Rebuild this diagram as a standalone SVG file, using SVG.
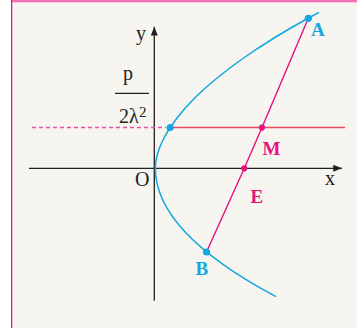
<svg xmlns="http://www.w3.org/2000/svg" width="357" height="328" viewBox="0 0 357 328">
<style>
.ax{stroke:#231f20;stroke-width:1.3;fill:none}
.lbl{font-family:"Liberation Serif","Times New Roman",serif;fill:#231f20;font-size:20px}
.bold{font-family:"Liberation Serif","Times New Roman",serif;font-weight:bold;font-size:19px}
.blue{fill:#12a6e2}
.pink{fill:#e5127f}
.curve{stroke:#12a6e2;stroke-width:1.5;fill:none}
.chord{stroke:#e5127f;stroke-width:1.4;fill:none}
</style>
<defs>
<marker id="arr" viewBox="0 0 10 8" refX="10" refY="4" markerWidth="10" markerHeight="7" markerUnits="userSpaceOnUse" orient="auto">
<path d="M0,0 L10,4 L0,8 Z" fill="#231f20"/>
</marker>
</defs>
<rect x="0" y="0" width="357" height="328" fill="#ffffff"/>
<g id="frame">
<rect x="11" y="0" width="346" height="328" fill="#f6f5ef"/>
<rect x="11" y="0" width="346" height="2.3" fill="#f270b4"/>
<rect x="11" y="0" width="1.3" height="328" fill="#e0168c"/>
</g>
<g id="axes">
<line class="ax" x1="29" y1="168.3" x2="342" y2="168.3" marker-end="url(#arr)"/>
<line class="ax" x1="154.3" y1="300.7" x2="154.3" y2="26.7" marker-end="url(#arr)"/>
<text class="lbl" x="135" y="186">O</text>
<text class="lbl" x="325" y="185">x</text>
<text class="lbl" x="136" y="40">y</text>
</g>
<g id="fraction">
<text class="lbl" x="123" y="80">p</text>
<line x1="115" y1="93.3" x2="149" y2="93.3" stroke="#231f20" stroke-width="1.2"/>
<text class="lbl" x="119" y="122.7">2λ</text>
<text class="lbl" x="139" y="116.5" style="font-size:15px">2</text>
</g>
<g id="connectors">
<line x1="32" y1="127.5" x2="166" y2="127.5" stroke="#e94fa2" stroke-width="1.6" stroke-dasharray="4 3"/>
<line x1="170" y1="127.5" x2="345" y2="127.5" stroke="#ea4c5c" stroke-width="1.3"/>
<polyline class="chord" points="308.3,18.3 262,127.6 244.3,168.3 206.5,252"/>
</g>
<g id="parabola">
<path class="curve" d="M319.1,12.3 L308.5,18 L290.8,28 L274,38 L258.4,48 L243.6,58 L229.8,68 L217.1,78 L205.3,88 L194.7,98 L185.3,108 L177,118 L169.9,128 L166.8,133 L164,138 L161.6,143 L159.5,148 L157.8,153 L156.5,158 L155.7,163 L155.3,168 Q155.3,232.35 276,296.7"/>
</g>
<g id="point-top">
<circle cx="170.2" cy="127.5" r="3.6" class="blue"/>
</g>
<g id="point-A">
<circle cx="308.3" cy="18.3" r="3.6" class="blue"/>
<text class="bold blue" x="311" y="36">A</text>
</g>
<g id="point-M">
<circle cx="262" cy="127.6" r="3.1" class="pink"/>
<text class="bold pink" x="262.5" y="154.5">M</text>
</g>
<g id="point-E">
<circle cx="244.3" cy="168.3" r="3.1" class="pink"/>
<text class="bold pink" x="250.5" y="202.5">E</text>
</g>
<g id="point-B">
<circle cx="206.5" cy="252" r="3.6" class="blue"/>
<text class="bold blue" x="195.5" y="275">B</text>
</g>
</svg>
